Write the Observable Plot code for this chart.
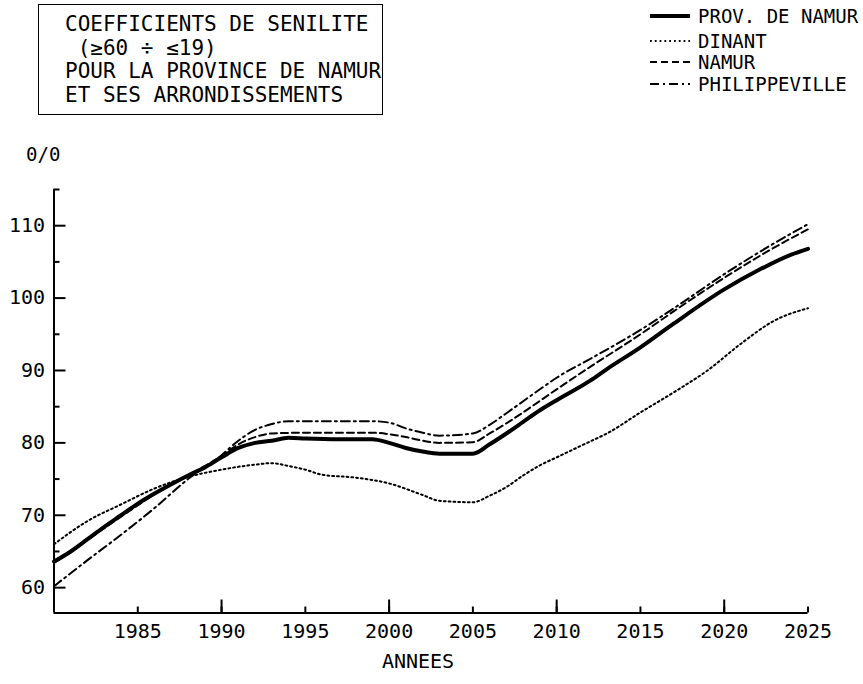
<!DOCTYPE html>
<html>
<head>
<meta charset="utf-8">
<script src="https://cdn.jsdelivr.net/npm/d3@7"></script>
<script src="https://cdn.jsdelivr.net/npm/@observablehq/plot@0.6"></script>
<style>
  html, body { margin: 0; padding: 0; background: #fff; }
  #wrap { position: relative; width: 863px; height: 684px; overflow: hidden; font-family: "DejaVu Sans Mono", monospace; color: #000; }
  #plot { position: absolute; left: 0; top: 0; }
  .box { position: absolute; left: 38px; top: 4px; width: 345px; height: 111px; border: 1.6px solid #000; box-sizing: border-box; }
  .tl { position: absolute; font-size: 21px; line-height: 24px; white-space: pre; }
  .lg { position: absolute; font-size: 19px; line-height: 22px; white-space: pre; left: 698px; }
  .sw { position: absolute; left: 648px; width: 44px; height: 10px; }
</style>
</head>
<body>
<div id="wrap">
  <div id="plot"></div>
  <div class="box"></div>
  <div id="title"></div>
  <div id="legend"></div>
</div>
<script>
// ---- data ----
const titleLines = ["COEFFICIENTS DE SENILITE", " (≥60 ÷ ≤19)", "POUR LA PROVINCE DE NAMUR", "ET SES ARRONDISSEMENTS"];
const seriesNames = ["PROV. DE NAMUR", "DINANT", "NAMUR", "PHILIPPEVILLE"];

const provNamur = [
  [1980, 63.6], [1981, 65.0], [1982, 66.7], [1983, 68.4], [1984, 70.0], [1985, 71.6],
  [1986, 73.0], [1987, 74.3], [1988, 75.5], [1989, 76.6], [1990, 78.0], [1991, 79.3],
  [1992, 80.0], [1993, 80.3], [1994, 80.7], [1995, 80.6], [1997, 80.5], [1999, 80.5],
  [2000, 80.0], [2001, 79.3], [2002, 78.8], [2003, 78.5], [2005, 78.5], [2006, 79.8],
  [2007, 81.3], [2008, 82.9], [2009, 84.5], [2010, 85.9], [2012, 88.6], [2013, 90.2],
  [2015, 93.2], [2017, 96.5], [2020, 101.2], [2022, 103.8], [2024, 106.0], [2025, 106.8]
];
const dinant = [
  [1980, 66.0], [1982, 69.2], [1984, 71.5], [1986, 73.7], [1988, 75.3], [1990, 76.3],
  [1992, 77.0], [1993, 77.2], [1994, 76.8], [1995, 76.3], [1996, 75.6], [1998, 75.2],
  [2000, 74.4], [2002, 72.8], [2003, 72.0], [2005, 71.8], [2006, 72.7], [2007, 73.9],
  [2008, 75.5], [2009, 76.9], [2010, 78.0], [2012, 80.2], [2013, 81.3], [2015, 84.2],
  [2017, 87.0], [2019, 90.0], [2021, 93.7], [2023, 96.9], [2025, 98.6]
];
const namur = [
  [1980, 63.4], [1982, 66.6], [1984, 69.8], [1986, 72.9], [1988, 75.5], [1990, 78.2],
  [1991, 79.8], [1992, 80.8], [1993, 81.3], [1995, 81.4], [1999, 81.4], [2000, 81.2],
  [2001, 80.8], [2002, 80.3], [2003, 80.0], [2005, 80.1], [2006, 81.3], [2007, 82.7],
  [2009, 85.8], [2010, 87.4], [2012, 90.5], [2015, 95.0], [2017, 98.2], [2020, 102.8],
  [2023, 107.0], [2025, 109.5]
];
const philippeville = [
  [1980, 60.2], [1982, 63.8], [1984, 67.3], [1986, 71.0], [1988, 75.0], [1990, 78.3],
  [1991, 80.3], [1992, 81.8], [1993, 82.6], [1994, 83.0], [1999, 83.0], [2000, 82.8],
  [2001, 82.0], [2002, 81.4], [2003, 81.0], [2005, 81.3], [2006, 82.5], [2007, 84.1],
  [2009, 87.4], [2010, 89.0], [2012, 91.6], [2015, 95.6], [2017, 98.6], [2020, 103.3],
  [2023, 107.6], [2025, 110.2]
];

const xDomain = [1980, 2025];
const yDomain = [56.5, 115];
const xLabelTicks = [1985, 1990, 1995, 2000, 2005, 2010, 2015, 2020, 2025];
const xMajorTicks = [1990, 2000, 2010, 2020];
const yLabelTicks = [60, 70, 80, 90, 100, 110];
const yMinorTicks = [65, 75, 85, 95, 105, 115];
const yUnitLabel = "0/0";
const xTitle = "ANNEES";

// ---- styles ----
const lineStyles = [
  {strokeWidth: 4, strokeDasharray: null},
  {strokeWidth: 2, strokeDasharray: "1.8 3"},
  {strokeWidth: 2, strokeDasharray: "7 4"},
  {strokeWidth: 2, strokeDasharray: "9 4 2 4"}
];
const seriesData = [provNamur, dinant, namur, philippeville];

const lineMarks = seriesData.map((s, i) => Plot.line(s, {
  x: d => d[0], y: d => d[1], stroke: "#000",
  strokeWidth: lineStyles[i].strokeWidth,
  strokeDasharray: lineStyles[i].strokeDasharray,
  curve: "monotone-x"
}));

const chart = Plot.plot({
  width: 863, height: 684,
  marginLeft: 53.5, marginRight: 55.5, marginTop: 189, marginBottom: 71.5,
  x: {domain: xDomain},
  y: {domain: yDomain},
  style: {fontFamily: "'DejaVu Sans Mono', monospace", fontSize: "20px", color: "#000", background: "transparent"},
  marks: [
    Plot.ruleX([xDomain[0]], {stroke: "#000", strokeWidth: 2}),
    Plot.ruleY([yDomain[0]], {stroke: "#000", strokeWidth: 2}),
    Plot.axisX({ticks: xLabelTicks, tickSize: -6, tickPadding: 17, tickFormat: d => String(d), strokeWidth: 2, label: null}),
    Plot.axisX({ticks: xMajorTicks, tickSize: -13, tickFormat: () => "", strokeWidth: 2, label: null}),
    Plot.axisY({ticks: yLabelTicks, tickSize: -12, tickPadding: 21, tickFormat: d => String(d), strokeWidth: 2, label: null}),
    Plot.axisY({ticks: yMinorTicks, tickSize: -6, tickFormat: () => "", strokeWidth: 2, label: null}),
    ...lineMarks,
    Plot.text([yUnitLabel], {frameAnchor: "top-left", dx: -28, dy: -42, fontSize: 19}),
    Plot.text([xTitle], {frameAnchor: "bottom", dx: -13, dy: 55, fontSize: 20})
  ]
});
document.getElementById("plot").appendChild(chart);

// ---- title box ----
const titleTops = [12, 35.5, 59, 83];
const titleLefts = [65, 65, 65, 65];
const tEl = document.getElementById("title");
titleLines.forEach((t, i) => {
  const d = document.createElement("div");
  d.className = "tl";
  d.style.top = titleTops[i] + "px";
  d.style.left = titleLefts[i] + "px";
  d.textContent = t;
  tEl.appendChild(d);
});

// ---- legend ----
const legendTops = [5, 30, 51, 73];
const lEl = document.getElementById("legend");
seriesNames.forEach((n, i) => {
  const d = document.createElement("div");
  d.className = "lg";
  d.style.top = legendTops[i] + "px";
  d.textContent = n;
  lEl.appendChild(d);
  const ns = "http://www.w3.org/2000/svg";
  const svg = document.createElementNS(ns, "svg");
  svg.setAttribute("class", "sw");
  svg.setAttribute("width", 44); svg.setAttribute("height", 10);
  svg.style.top = (legendTops[i] + 6) + "px";
  const ln = document.createElementNS(ns, "line");
  ln.setAttribute("x1", 2); ln.setAttribute("x2", 42);
  ln.setAttribute("y1", 5); ln.setAttribute("y2", 5);
  ln.setAttribute("stroke", "#000");
  ln.setAttribute("stroke-width", lineStyles[i].strokeWidth);
  if (lineStyles[i].strokeDasharray) ln.setAttribute("stroke-dasharray", lineStyles[i].strokeDasharray);
  svg.appendChild(ln);
  lEl.appendChild(svg);
});
</script>
</body>
</html>
